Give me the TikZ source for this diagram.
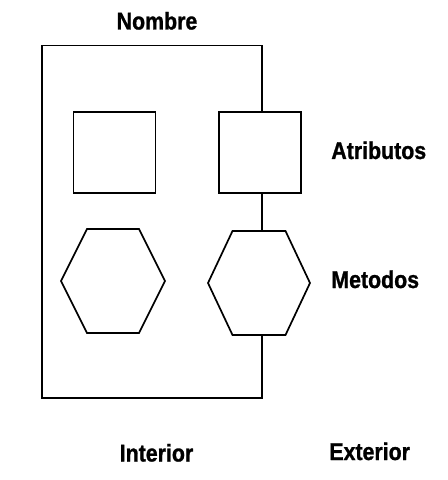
\documentclass[tikz,border=0pt]{standalone}
\usepackage{fontspec}
\setmainfont{Liberation Sans}
\newfontfamily\lblfont[FakeBold=1.2]{Liberation Sans Bold}
\usetikzlibrary{calc}
\newcommand{\lbltext}[1]{\scalebox{0.97}[1.1]{#1}}
\begin{document}
\begin{tikzpicture}[x=1bp,y=-1bp,
  line width=1.7bp, line join=miter,
  box/.style={draw, rectangle, minimum width=82bp, minimum height=81bp, inner sep=0, line width=1.7bp},
  lbl/.style={inner sep=0, font=\fontsize{22bp}{24bp}\lblfont}]
\useasboundingbox (0,0) rectangle (448,480);
% squares
\node[box] (sqL) at (114.5,152.8) {};
\node[box] (sqR) at (260.2,152.8) {};
% hexagons (named centre coordinates)
\coordinate (hL) at (113,281);
\coordinate (hR) at (259,283);
\draw ($(hL)+(-26,-52)$) -- ($(hL)+(26,-52)$) -- ($(hL)+(52,0)$) -- ($(hL)+(26,52)$) -- ($(hL)+(-26,52)$) -- ($(hL)+(-52,0)$) -- cycle;
\draw ($(hR)+(-26.5,-52)$) -- ($(hR)+(26.5,-52)$) -- ($(hR)+(51,0)$) -- ($(hR)+(26.5,52)$) -- ($(hR)+(-26.5,52)$) -- ($(hR)+(-51,0)$) -- cycle;
\coordinate (hRtop) at ($(hR)+(0,-52)$);
\coordinate (hRbot) at ($(hR)+(0,52)$);
% frame
\coordinate (tr) at (261.7,45.5);
\coordinate (tl) at (42,45.5);
\coordinate (bl) at (42,398);
\coordinate (br) at (261.7,398);
\draw (sqR.north -| tr) -- (tr) -- (tl) -- (bl) -- (br) -- (hRbot -| br);
\draw (sqR.south -| tr) -- (hRtop -| tr);
% labels
\node[lbl, anchor=base] (nombre) at (157,29.5) {\lbltext{Nombre}};
\node[lbl, anchor=base west] (atrib) at (330.5,159) {\lbltext{Atributos}};
\node[lbl, anchor=base west] (metod) at (330.5,288) {\lbltext{Metodos}};
\node[lbl, anchor=base] (inter) at (156.5,461.5) {\lbltext{Interior}};
\node[lbl, anchor=base west] (exter) at (328.5,460) {\lbltext{Exterior}};
\end{tikzpicture}
\end{document}
